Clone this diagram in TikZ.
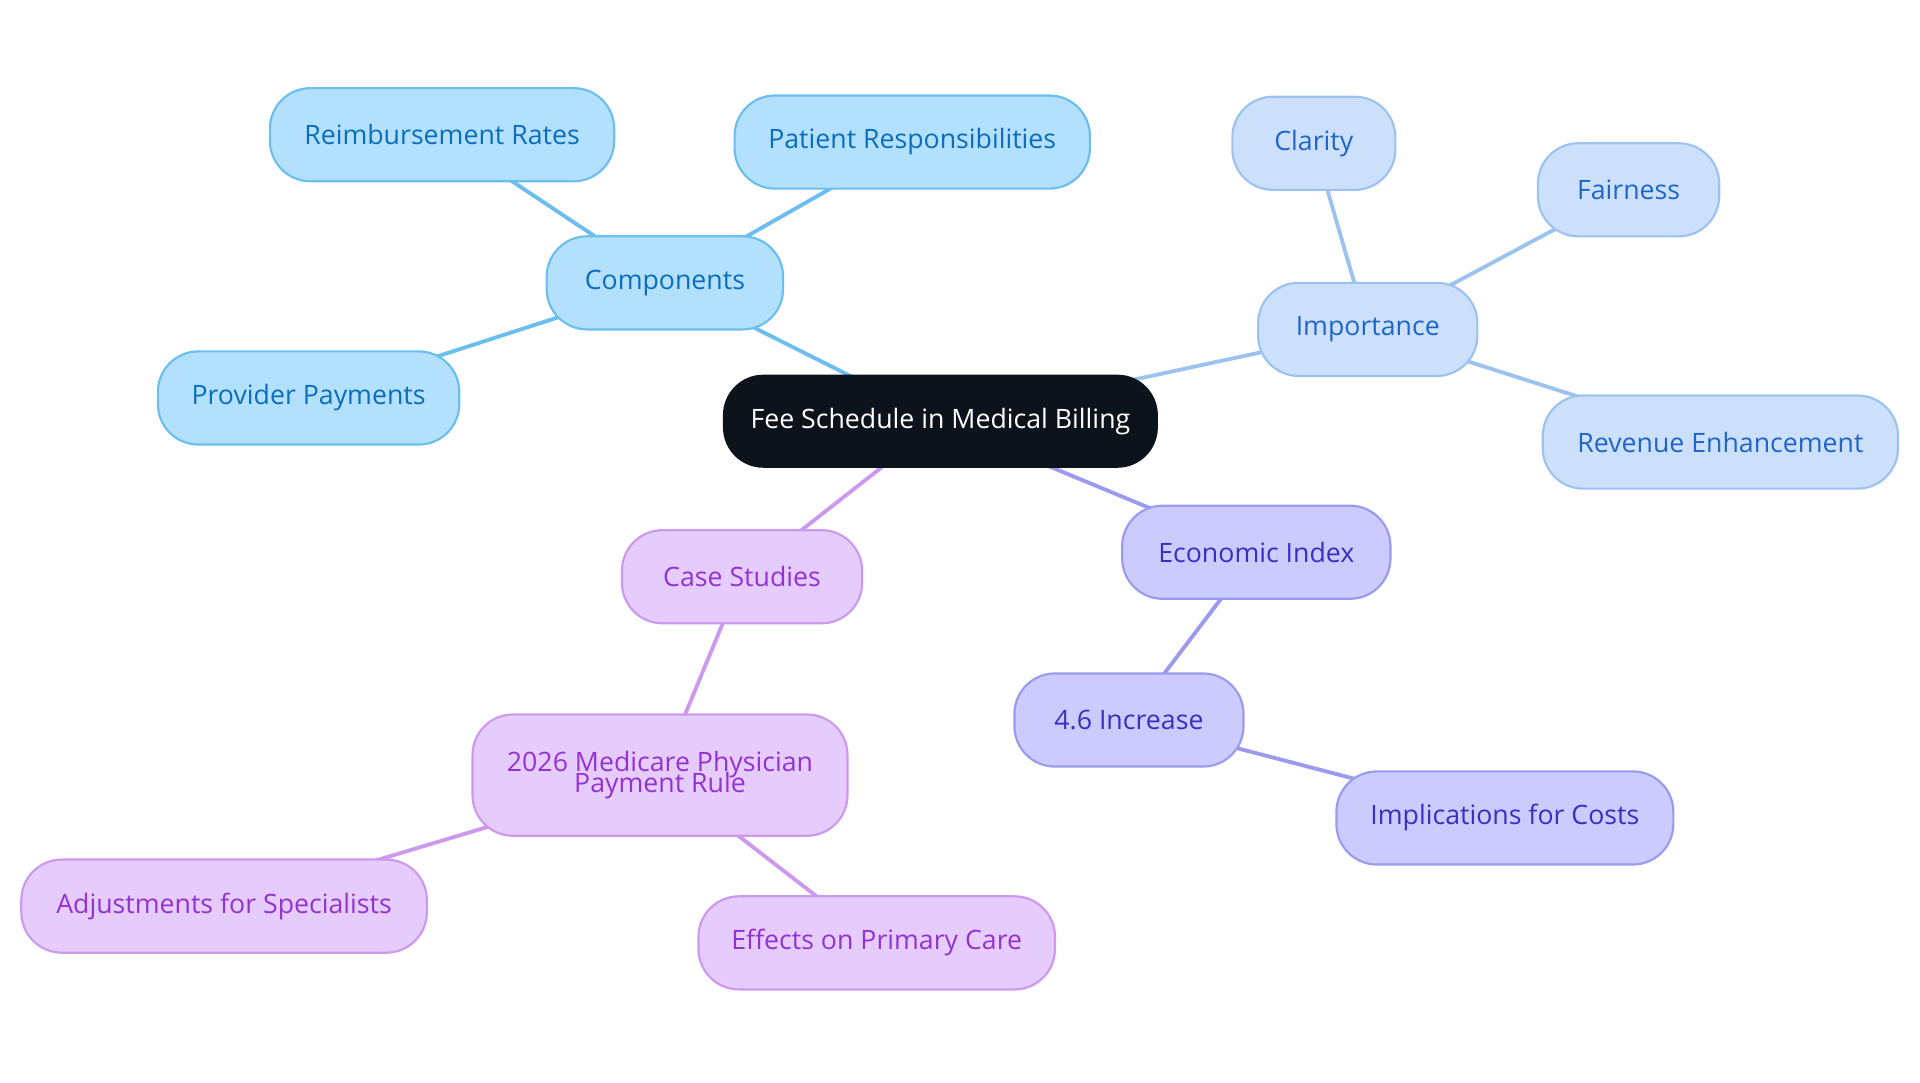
\documentclass[tikz,border=0pt]{standalone}
\usepackage{fontspec}
\setmainfont{Open Sans}
\usetikzlibrary{backgrounds}
\definecolor{cfill}{HTML}{B3E0FD}\definecolor{cline}{HTML}{6CBEEE}\definecolor{ctext}{HTML}{0A6EBD}
\definecolor{ifill}{HTML}{CCE0FB}\definecolor{iline}{HTML}{9CC3F0}\definecolor{itext}{HTML}{1F66C7}
\definecolor{efill}{HTML}{CBCBFD}\definecolor{eline}{HTML}{9A9AEE}\definecolor{etext}{HTML}{3B2FC1}
\definecolor{sfill}{HTML}{E6CBFD}\definecolor{sline}{HTML}{CC99EE}\definecolor{stext}{HTML}{9333D0}
\definecolor{root}{HTML}{0D131B}
\begin{document}
\begin{tikzpicture}[x=0.01cm,y=-0.01cm]
    % Styles
    \tikzset{
        box/.style={rounded corners=0.33cm, minimum height=0.76cm, align=center,
            font=\fontsize{6.2}{7}\selectfont, line width=0.5pt},
        comp/.style={box, fill=cfill, draw=cline, text=ctext},
        imp/.style={box, fill=ifill, draw=iline, text=itext},
        eco/.style={box, fill=efill, draw=eline, text=etext},
        cas/.style={box, fill=sfill, draw=sline, text=stext},
        link/.style={line width=0.9pt}
    }
    \useasboundingbox (0,0) rectangle (1568,884);

    % Root
    \node[box, fill=root, text=white, minimum width=3.55cm] (fee) at (768,344) {Fee Schedule in Medical Billing};

    % Components
    \node[comp, minimum width=1.93cm] (components) at (543,231) {Components};
    \node[comp, minimum width=2.81cm] (rates) at (361,110) {Reimbursement Rates};
    \node[comp, minimum width=2.90cm] (patient) at (745,116) {Patient Responsibilities};
    \node[comp, minimum width=2.46cm] (provider) at (252,325) {Provider Payments};

    % Importance
    \node[imp, minimum width=1.79cm] (importance) at (1117,269) {Importance};
    \node[imp, minimum width=1.33cm] (clarity) at (1073,117) {Clarity};
    \node[imp, minimum width=1.48cm] (fairness) at (1330,155) {Fairness};
    \node[imp, minimum width=2.90cm] (revenue) at (1405,361) {Revenue Enhancement};

    % Economic index
    \node[eco, minimum width=2.19cm] (economic) at (1026,451) {Economic Index};
    \node[eco, minimum width=1.87cm] (increase) at (922,588) {4.6 Increase};
    \node[eco, minimum width=2.75cm] (costs) at (1229,668) {Implications for Costs};

    % Case studies
    \node[cas, minimum width=1.96cm] (cases) at (606,471) {Case Studies};
    \node[cas, minimum width=3.06cm, minimum height=0.99cm] (medicare) at (539,633) {2026 Medicare Physician\\[-2pt]Payment Rule};
    \node[cas, minimum width=3.31cm] (specialists) at (183,740) {Adjustments for Specialists};
    \node[cas, minimum width=2.91cm] (primary) at (716,770) {Effects on Primary Care};

    % Connectors
    \begin{scope}[on background layer]
        \draw[link, cline] (fee.center) -- (components.center);
        \foreach \n in {rates,patient,provider}
            \draw[link, cline] (components.center) -- (\n.center);
        \draw[link, iline] (fee.center) -- (importance.center);
        \foreach \n in {clarity,fairness,revenue}
            \draw[link, iline] (importance.center) -- (\n.center);
        \draw[link, eline] (fee.center) -- (economic.center) -- (increase.center) -- (costs.center);
        \draw[link, sline] (fee.center) -- (cases.center) -- (medicare.center);
        \foreach \n in {specialists,primary}
            \draw[link, sline] (medicare.center) -- (\n.center);
    \end{scope}
\end{tikzpicture}
\end{document}
